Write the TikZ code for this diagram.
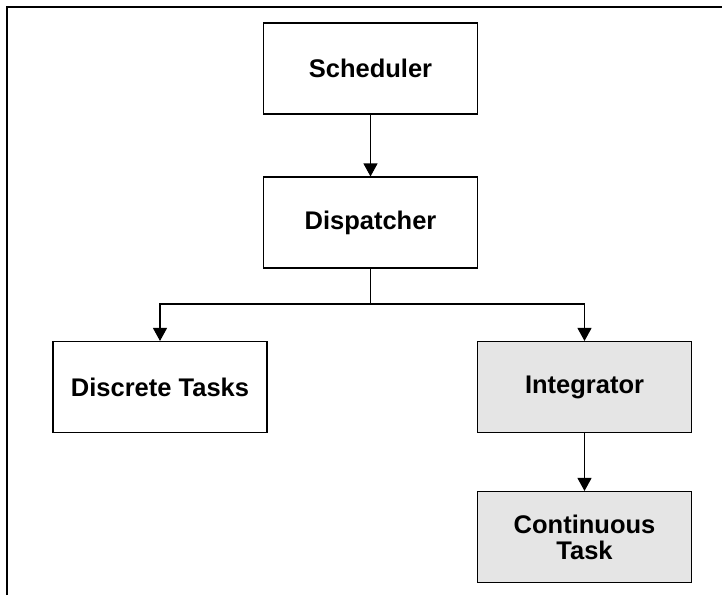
\documentclass[tikz,border=0pt]{standalone}
\usepackage{fontspec}
\setmainfont{Liberation Sans}
\usetikzlibrary{arrows.meta}
\definecolor{boxgray}{HTML}{E5E5E5}
\begin{document}
\begin{tikzpicture}[x=1pt,y=-1pt,
  block/.style={draw=black, line width=1.1pt, minimum width=214pt, minimum height=91pt,
    inner sep=0pt, align=center, font=\fontsize{25.5}{26}\selectfont\bfseries},
  shaded/.style={block, fill=boxgray},
  link/.style={line width=1.1pt, -{Triangle[length=13pt,width=14pt]}},
  plain/.style={line width=1.1pt}]
  \useasboundingbox (0,0) rectangle (727,595);
  % frame (left and top edges)
  \draw[line width=1.4pt] (7,595) -- (7,7) -- (722,7);
  % blocks
  \node[block]  (sched) at (370.5,68.5)  {Scheduler};
  \node[block]  (disp)  at (370.5,222.5) {Dispatcher};
  \node[block]  (disc)  at (160,387)     {Discrete Tasks};
  \node[shaded] (integ) at (584.5,387)   {Integrator};
  \node[shaded] (cont)  at (584.5,537)   {Continuous\\Task};
  % connectors
  \coordinate (split) at (370.5,304);
  \draw[link]  (sched.south) -- (disp.north);
  \draw[plain] (disp.south) -- (split);
  \draw[link]  (split) -| (disc.north);
  \draw[link]  (split) -| (integ.north);
  \draw[link]  (integ.south) -- (cont.north);
\end{tikzpicture}
\end{document}
